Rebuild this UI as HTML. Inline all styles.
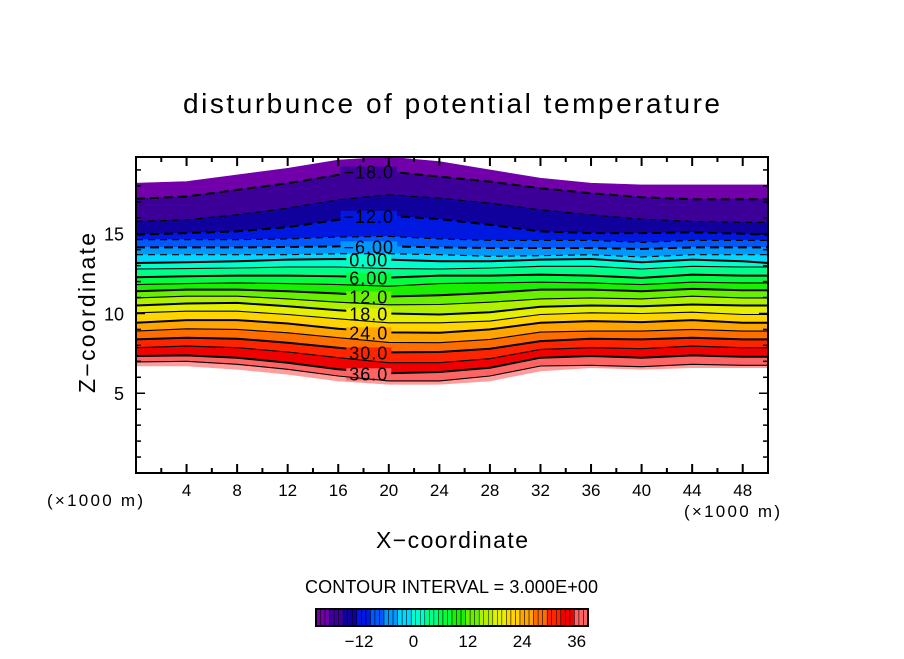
<!DOCTYPE html>
<html><head><meta charset="utf-8"><style>
body{margin:0;background:#fff;}
svg text{font-family:"Liberation Sans","DejaVu Sans",sans-serif;fill:#000;}
</style></head><body>
<svg id="chart" width="904" height="654" viewBox="0 0 904 654" xmlns="http://www.w3.org/2000/svg">
<text x="183" y="113" font-size="28" textLength="537" lengthAdjust="spacing">disturbunce of potential temperature</text>
<g id="plot"></g>
<g id="axes"></g>
<text transform="translate(95,393) rotate(-90)" font-size="23" textLength="160" lengthAdjust="spacing">Z−coordinate</text>
<text x="376" y="548" font-size="23" textLength="152" lengthAdjust="spacing">X−coordinate</text>
<text x="47" y="506" font-size="17" textLength="96" lengthAdjust="spacing">(×1000 m)</text>
<text x="684" y="517" font-size="17" textLength="96" lengthAdjust="spacing">(×1000 m)</text>
<text x="305" y="593" font-size="18" textLength="293" lengthAdjust="spacing">CONTOUR INTERVAL = 3.000E+00</text>
<g id="cbar"></g>
</svg>
<script>
// ---- data ----
const xSamples = [0,4,8,12,16,20,24,28,32,36,40,44,48,50];
const levels = [-18,-15,-12,-9,-6,-3,0,3,6,9,12,15,18,21,24,27,30,33,36,39];
// contour heights (zoom-derived), converted to z (km): z = 20.25 - zy/48
const zyTop = [100,95,75,55,30,21,35,60,85,100,105,105,105,105];
const zyLevels = [
 [147,140,120,100,75,65,80,95,115,130,142,148,148,148],
 [215,210,195,175,150,135,145,160,180,195,208,215,218,218],
 [255,250,245,232,210,198,208,225,245,250,250,248,252,255],
 [270,270,270,268,262,260,268,272,272,272,278,272,272,272],
 [293,293,293,292,290,290,293,295,295,295,298,293,293,293],
 [315,315,315,315,312,312,315,320,318,315,322,315,315,315],
 [340,338,335,330,328,330,335,335,330,328,338,330,335,340],
 [358,357,355,352,352,357,358,355,350,350,358,350,352,352],
 [383,380,378,378,380,384,378,378,375,378,385,375,378,378],
 [405,402,400,402,405,410,402,400,398,400,405,398,400,400],
 [425,420,420,425,432,441,437,430,420,420,425,418,422,422],
 [445,440,440,448,458,466,465,458,448,445,448,440,445,445],
 [468,462,460,470,482,492,495,488,472,468,470,465,468,468],
 [490,485,485,495,508,520,520,515,495,490,492,488,495,495],
 [520,512,512,522,538,549,550,540,520,515,518,512,520,520],
 [545,538,540,550,565,579,580,570,548,545,545,540,545,545],
 [570,565,568,580,595,609,608,598,575,568,570,565,570,570],
 [595,590,595,608,625,640,640,628,600,595,598,590,595,595],
 [620,618,625,640,660,672,668,655,625,620,625,618,622,622],
 [638,636,645,660,680,695,695,680,650,648,652,645,648,648]
];
const zyBottom = [650,650,660,675,695,705,705,695,665,655,660,655,655,655];
const bandColors = ["#7200aa","#3c0098","#10009c","#0018e0","#0058ff","#0098ff","#00d8ff","#00ffcc","#00ff88","#00ff40","#18f000","#68f000","#b0f000","#e4f000","#ffd400","#ffa400","#ff6c00","#ff2400","#f00000","#ff6464","#ff9c9c"];
const xTicks = [4,8,12,16,20,24,28,32,36,40,44,48];
const yTicks = [5,10,15];
const cbarTicks = [-12,0,12,24,36];
const labelX = 20;

// ---- scales ----
const X0=136,X1=768,Y0=473,Y1=157,XMAX=50,ZMAX=19.81;
const sx=v=>X0+(X1-X0)*v/XMAX;
const sy=z=>Y0-(Y0-Y1)*z/ZMAX;
const toZ=zy=>20.25-zy/48;
const NS="http://www.w3.org/2000/svg";
function mk(tag,attrs,parent){const e=document.createElementNS(NS,tag);for(const k in attrs)e.setAttribute(k,attrs[k]);parent.appendChild(e);return e;}
const plot=document.getElementById('plot');
const curves=[zyTop,...zyLevels,zyBottom].map(a=>a.map(toZ));
function pts(c){return c.map((z,i)=>[sx(xSamples[i]),sy(z)]);}
for(let b=0;b<curves.length-1;b++){
  const up=pts(curves[b]), dn=pts(curves[b+1]).reverse();
  const d='M'+up.concat(dn).map(p=>p[0].toFixed(1)+','+p[1].toFixed(1)).join('L')+'Z';
  const el=mk('path',{d:d,fill:bandColors[b],stroke:bandColors[b],'stroke-width':0.6},plot);
  
  
}
levels.forEach((lv,i)=>{
  const p=pts(curves[i+1]);
  const labeled = lv%6===0 && lv<39;
  const a={d:'M'+p.map(q=>q[0].toFixed(1)+','+q[1].toFixed(1)).join('L'),fill:'none',stroke:'#000','stroke-width':labeled?2:1.1};
  if(lv<0)a['stroke-dasharray']=labeled?'9,5':'7,5';
  const el=mk('path',a,plot);
  
  
  if(labeled){
    const k=xSamples.indexOf(labelX);
    const t=mk('text',{x:sx(labelX)-20,y:sy(curves[i+1][k])+7,'text-anchor':'middle','font-size':18,'letter-spacing':1},plot);
    
    
    t.textContent=(lv===0||lv===6||lv===-6)?lv.toFixed(2).replace('-','−'):lv.toFixed(1).replace('-','−');
    const bb=t.getBBox();
    const r=mk('rect',{x:bb.x-3,y:bb.y+4,width:bb.width+6,height:bb.height-8,fill:bandColors[i+1]},plot);
    
    
    plot.appendChild(t);
  }
});
const ax=document.getElementById('axes');
const fr=mk('rect',{x:X0,y:Y1,width:X1-X0,height:Y0-Y1,fill:'none',stroke:'#000','stroke-width':2},ax);


for(let v=2;v<XMAX;v+=2){
  const L=(v%4===0)?9:5;
  const x=sx(v);
  mk('line',{x1:x,x2:x,y1:Y0,y2:Y0-L,stroke:'#000','stroke-width':2},ax);
  mk('line',{x1:x,x2:x,y1:Y1,y2:Y1+L,stroke:'#000','stroke-width':2},ax);
}
for(let v=1;v<ZMAX;v+=1){
  const L=(v%5===0)?9:5;
  const y=sy(v);
  mk('line',{x1:X0,x2:X0+L,y1:y,y2:y,stroke:'#000','stroke-width':1.5},ax);
  mk('line',{x1:X1,x2:X1-L,y1:y,y2:y,stroke:'#000','stroke-width':1.5},ax);
}
xTicks.forEach(v=>{
  const t=mk('text',{x:sx(v),y:496,'text-anchor':'middle','font-size':17},ax);
  
  
  t.textContent=v;
});
yTicks.forEach(v=>{
  const t=mk('text',{x:124,y:sy(v)+7,'text-anchor':'end','font-size':18},ax);
  
  
  t.textContent=v;
});
const cb=document.getElementById('cbar');
const CB0=316,CB1=588,CBY=609,CBH=17,VMIN=-21,VMAX=39;
const cx=v=>CB0+(CB1-CB0)*(v-VMIN)/(VMAX-VMIN);
for(let v=VMIN;v<VMAX;v++){
  const bi=Math.min(bandColors.length-1,Math.floor((v-VMIN)/3));
  const r=mk('rect',{x:cx(v),y:CBY,width:cx(v+1)-cx(v),height:CBH,fill:bandColors[bi],stroke:'#000','stroke-width':0.5},cb);
  
  
}
mk('rect',{x:CB0,y:CBY,width:CB1-CB0,height:CBH,fill:'none',stroke:'#000','stroke-width':2},cb);
cbarTicks.forEach(v=>{
  const t=mk('text',{x:cx(v+0.5),y:647,'text-anchor':'middle','font-size':17},cb);
  
  
  t.textContent=String(v).replace('-','−');
});
</script>
</body></html>
